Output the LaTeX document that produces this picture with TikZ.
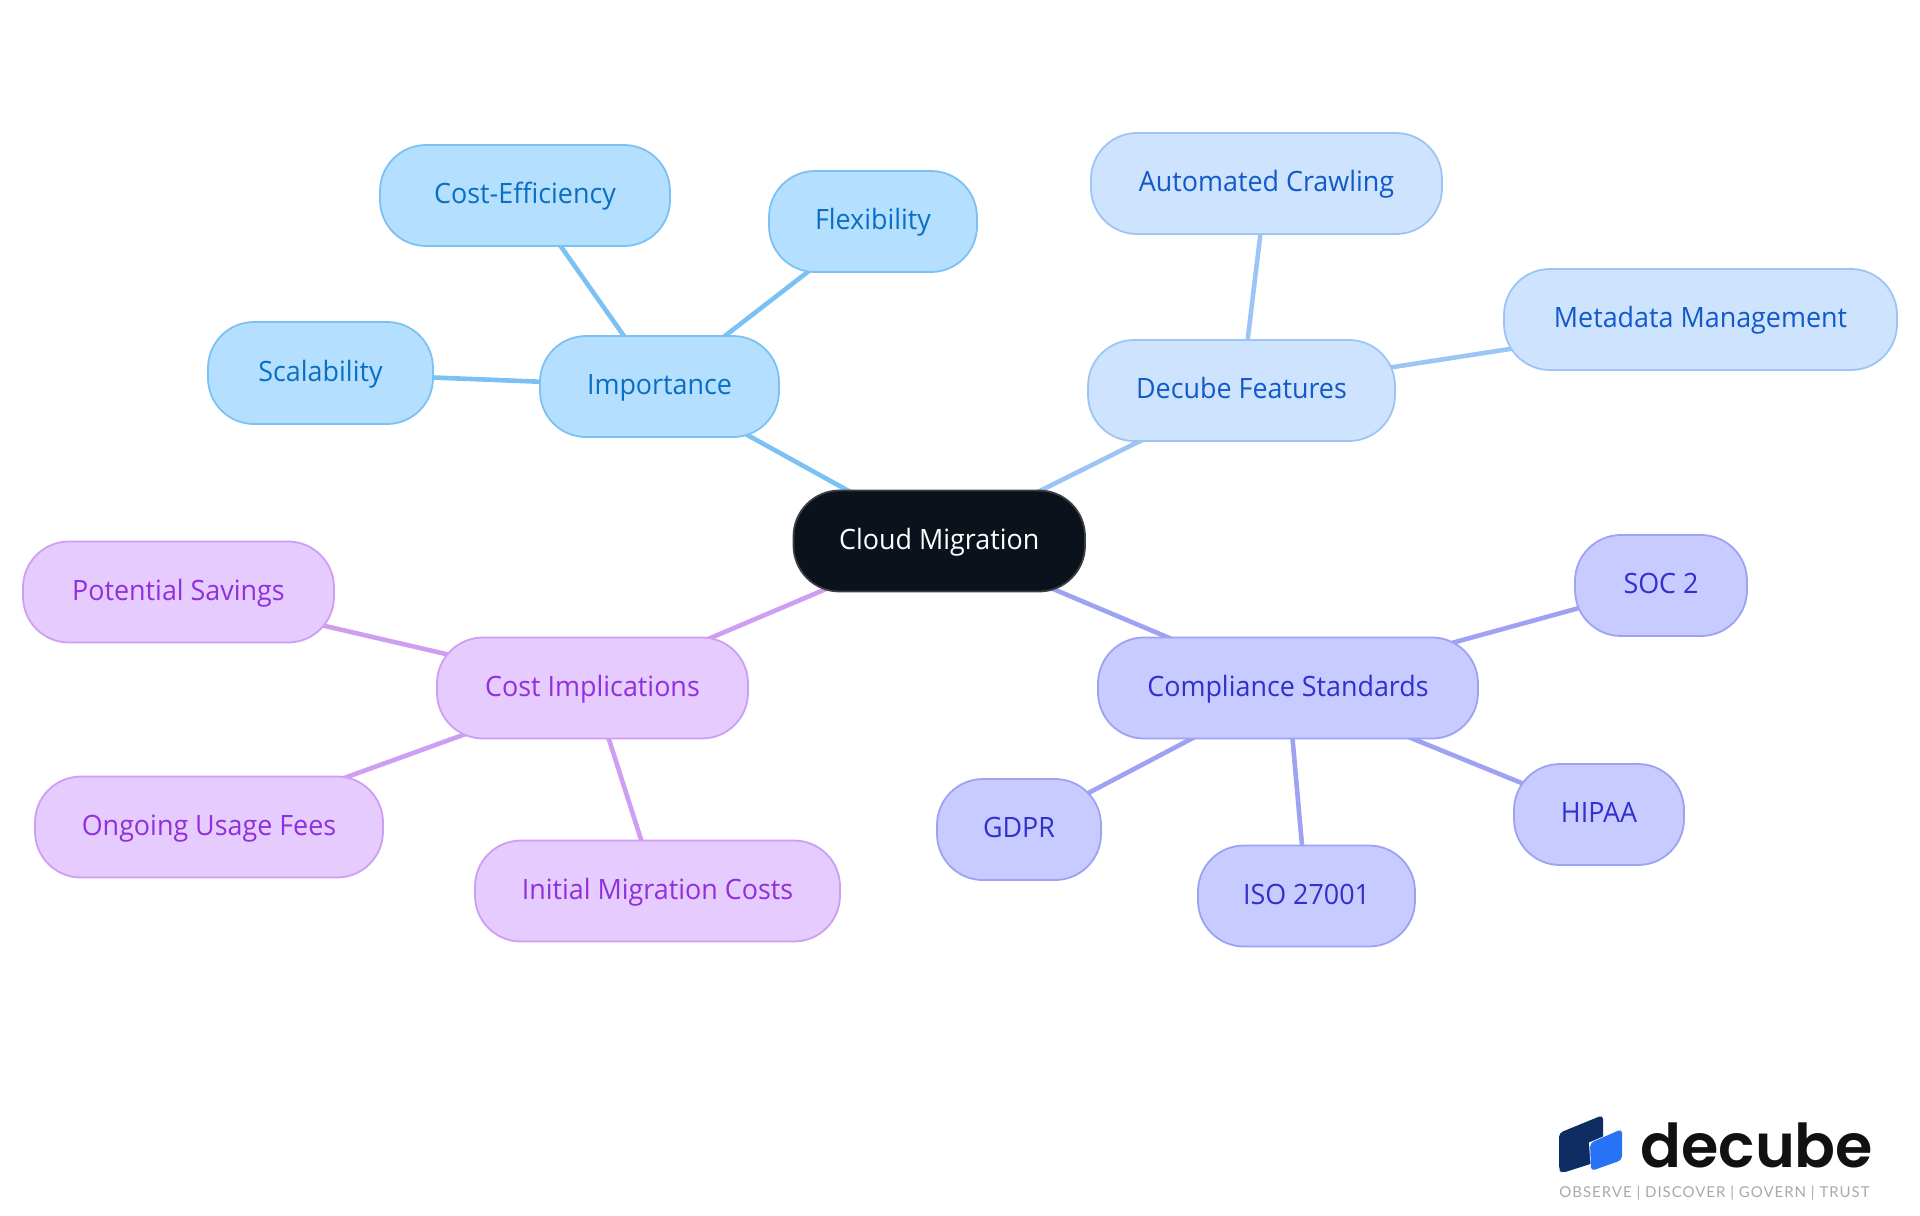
\documentclass[tikz,border=0pt]{standalone}
\usepackage{fontspec}
\setmainfont{Open Sans}[FakeStretch=0.96]
\newfontfamily\logofont{Poppins}[UprightFont=* SemiBold]
\newfontfamily\tagfont{Lato}[LetterSpace=6.5]
\usetikzlibrary{backgrounds}
\definecolor{skyF}{HTML}{B4DFFF}\definecolor{skyD}{HTML}{7CC1F3}\definecolor{skyT}{HTML}{0A6FC2}
\definecolor{bluF}{HTML}{CEE3FD}\definecolor{bluD}{HTML}{9CC5F5}\definecolor{bluT}{HTML}{1259C9}
\definecolor{indF}{HTML}{C8CBFF}\definecolor{indD}{HTML}{9DA2F2}\definecolor{indT}{HTML}{3030CC}
\definecolor{purF}{HTML}{E6CBFF}\definecolor{purD}{HTML}{CD9EF2}\definecolor{purT}{HTML}{9030DC}
\definecolor{rootF}{HTML}{0B121B}\definecolor{rootD}{HTML}{3A3F45}
\definecolor{logoA}{HTML}{0F2D63}\definecolor{logoB}{HTML}{2873F5}\definecolor{logoC}{HTML}{111111}\definecolor{logoG}{HTML}{A9A9A9}
\tikzset{
 x=0.5pt,y=-0.5pt,
 pill/.style={rounded corners=23pt,line width=0.9pt,inner sep=0pt,text height=11pt,text depth=3pt,font=\fontsize{14}{16}\selectfont},
 rootn/.style={pill,draw=rootD,fill=rootF,text=white},
 sky/.style={pill,draw=skyD,fill=skyF,text=skyT},
 blu/.style={pill,draw=bluD,fill=bluF,text=bluT},
 ind/.style={pill,draw=indD,fill=indF,text=indT},
 pur/.style={pill,draw=purD,fill=purF,text=purT},
 link/.style={line width=2.3pt},
}
\newcommand{\pillnode}[7]{% style,name,x0,y0,x1,y1,text
 \node[#1,minimum width={(#5-#3)*0.5pt},minimum height={(#6-#4)*0.5pt}] (#2) at ({(#3+#5)/2},{(#4+#6)/2}) {#7};}
\begin{document}
\begin{tikzpicture}
\useasboundingbox (0,0) rectangle (1920,1215);
\pillnode{rootn}{root}{793.5}{490.5}{1085}{591.5}{Cloud Migration}
\pillnode{sky}{imp}{540}{336}{779}{437}{Importance}
\pillnode{sky}{ce}{380}{145}{670}{246}{Cost-Efficiency}
\pillnode{sky}{flex}{769}{171}{977}{272}{Flexibility}
\pillnode{sky}{scal}{208}{322}{433}{424}{Scalability}
\pillnode{blu}{dec}{1088}{340}{1395}{441}{Decube Features}
\pillnode{blu}{auto}{1091}{133}{1442}{234}{Automated Crawling}
\pillnode{blu}{meta}{1504}{269}{1897}{370}{Metadata Management}
\pillnode{ind}{comp}{1098}{637.5}{1478}{738.5}{Compliance Standards}
\pillnode{ind}{soc}{1575}{535}{1747}{636}{SOC 2}
\pillnode{ind}{hipaa}{1514}{764}{1684}{865}{HIPAA}
\pillnode{ind}{iso}{1198}{845.5}{1415}{946.5}{ISO 27001}
\pillnode{ind}{gdpr}{937}{779}{1101}{880}{GDPR}
\pillnode{pur}{cost}{437}{637.5}{748}{738.5}{Cost Implications}
\pillnode{pur}{pot}{23}{541.5}{334}{642.5}{Potential Savings}
\pillnode{pur}{ong}{35}{776.5}{383}{877.5}{Ongoing Usage Fees}
\pillnode{pur}{init}{475}{840.5}{840}{941.5}{Initial Migration Costs}
\begin{scope}[on background layer]
\draw[link,skyD] (root.center)--(imp.center) (imp.center)--(ce.center) (imp.center)--(flex.center) (imp.center)--(scal.center);
\draw[link,bluD] (root.center)--(dec.center) (dec.center)--(auto.center) (dec.center)--(meta.center);
\draw[link,indD] (root.center)--(comp.center) (comp.center)--(soc.center) (comp.center)--(hipaa.center) (comp.center)--(iso.center) (comp.center)--(gdpr.center);
\draw[link,purD] (root.center)--(cost.center) (cost.center)--(pot.center) (cost.center)--(ong.center) (cost.center)--(init.center);
\end{scope}
% logo
\fill[logoA,rounded corners=2pt] (1559,1133)--(1603,1115)--(1603,1160)--(1562,1173)--(1559,1170)--cycle;
\fill[white] (1589,1142.5)--(1622.5,1128.5)--(1622.5,1160)--(1591,1172)--cycle;
\fill[logoB,rounded corners=2pt] (1590,1143)--(1622,1129)--(1622,1160)--(1591,1171)--cycle;
\node[inner sep=0pt,anchor=base west,text=logoC,font=\logofont\fontsize{30.2}{34}\selectfont] (word) at (1640,1167) {decube};
\node[inner sep=0pt,anchor=base west,text=logoG,font=\tagfont\fontsize{7.5}{9}\selectfont] (tag) at (1559,1197) {OBSERVE | DISCOVER | GOVERN | TRUST};
\end{tikzpicture}
\end{document}
